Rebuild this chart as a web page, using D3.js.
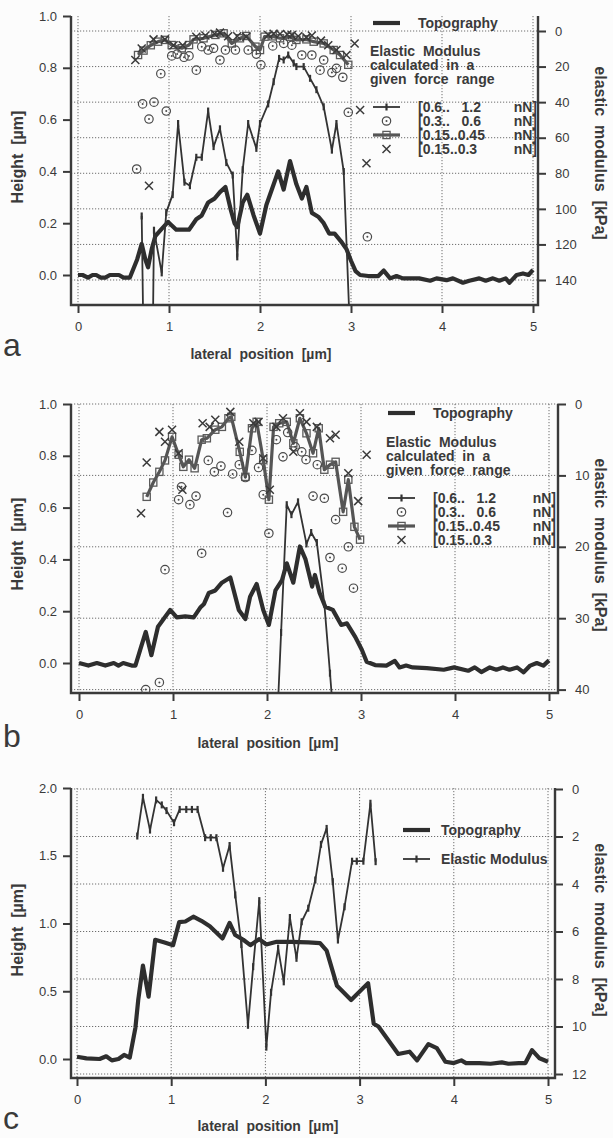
<!DOCTYPE html>
<html>
<head>
<meta charset="utf-8">
<script src="https://cdn.jsdelivr.net/npm/d3@7"></script>
<style>
  body { margin: 0; background: #fcfcfc; }
  text { font-family: "Liberation Sans", Arial, Helvetica, sans-serif; fill: #3a3a3a; white-space: pre; }
</style>
</head>
<body>
<div id="chart"></div>
<script>
// tick values shared by the three panels
var xTicks = [0, 1, 2, 3, 4, 5];
var heightTicksAB = [0, 0.2, 0.4, 0.6, 0.8, 1.0];
var heightTicksC = [0, 0.5, 1.0, 1.5, 2.0];
var modTicksA = [0, 20, 40, 60, 80, 100, 120, 140];
var modTicksB = [0, 10, 20, 30, 40];
var modTicksC = [0, 2, 4, 6, 8, 10, 12];
var rangeLabels = ["[0.6..   1.2", "[0.3..   0.6", "[0.15..0.45", "[0.15..0.3"];
var headLines = ["Elastic  Modulus", "calculated  in  a", "given  force  range"];

// ---- panel a : [lateral µm, height µm] and [lateral µm, modulus kPa]
var topoA = [[0,0],[0.05,0],[0.11,-0.01],[0.16,0],[0.2,0],[0.25,-0.01],[0.3,-0.01],[0.35,0],[0.4,0],[0.45,0],
  [0.5,-0.01],[0.57,-0.01],[0.65,0.06],[0.7,0.12],[0.74,0.06],[0.77,0.03],[0.81,0.1],[0.85,0.15],[0.9,0.17],
  [0.99,0.205],[1.08,0.175],[1.15,0.175],[1.22,0.175],[1.3,0.215],[1.36,0.23],[1.43,0.28],[1.5,0.295],
  [1.56,0.32],[1.62,0.34],[1.68,0.25],[1.72,0.2],[1.75,0.185],[1.81,0.28],[1.86,0.31],[1.93,0.23],[2.0,0.16],
  [2.07,0.27],[2.13,0.33],[2.2,0.4],[2.26,0.33],[2.33,0.44],[2.4,0.35],[2.46,0.295],[2.51,0.34],[2.57,0.24],
  [2.64,0.225],[2.7,0.2],[2.76,0.16],[2.82,0.16],[2.89,0.13],[2.95,0.1],[3.0,0.055],[3.05,0.015],[3.1,0],
  [3.19,-0.004],[3.3,-0.004],[3.36,0.017],[3.43,-0.013],[3.5,-0.004],[3.57,-0.013],[3.75,-0.013],[3.87,-0.022],
  [3.94,-0.013],[4.05,-0.02],[4.12,-0.013],[4.23,-0.03],[4.3,-0.022],[4.41,-0.013],[4.48,-0.022],[4.56,-0.013],
  [4.63,-0.022],[4.7,-0.013],[4.74,-0.03],[4.82,0],[4.89,0.006],[4.95,0],[5.0,0.02]];
var thinA = [[0.70,104],[0.715,158],[0.825,158],[0.835,112],[0.92,136],[0.97,102],[1.04,92],[1.10,52],[1.17,85],
  [1.23,87],[1.30,71],[1.36,71],[1.43,45],[1.49,65],[1.56,55],[1.63,74],[1.70,81],[1.75,127],[1.81,78],[1.87,52],
  [1.96,66],[2.00,52],[2.09,41],[2.15,28.5],[2.21,15.4],[2.26,16.3],[2.31,13.5],[2.37,18],[2.40,20],[2.48,20],
  [2.55,26.6],[2.62,33],[2.70,42.6],[2.79,67],[2.84,52],[2.92,79],[2.98,158]];
var circA = [[0.645,77.6],[0.71,41],[0.78,49.5],[0.835,40],[0.91,24],[0.97,45],[1.03,14],[1.09,13],[1.165,14.8],
  [1.22,14],[1.30,22],[1.36,8.8],[1.43,10.7],[1.49,9.7],[1.56,16.3],[1.62,10.7],[1.73,10.7],[1.87,10.7],[1.96,13],
  [2.01,19],[2.14,8.4],[2.26,7],[2.35,8],[2.46,13.5],[2.57,13.5],[2.66,22],[2.70,16.3],[2.79,23.4],[2.84,21],
  [2.91,26],[2.97,45.7],[3.18,115.7]];
var sqA = [[0.66,13.5],[0.72,11],[0.80,8],[0.88,6],[0.955,5],[1.03,7.9],[1.14,9.7],[1.22,7.9],[1.27,4.7],[1.38,4.1],
  [1.51,2.2],[1.60,1.3],[1.69,7],[1.78,4.1],[1.85,2.8],[1.95,8.8],[2.00,10.7],[2.05,3.2],[2.14,3.0],[2.22,4.1],
  [2.33,3.2],[2.40,5],[2.51,4.7],[2.59,6],[2.70,7],[2.81,10.7],[2.88,13.5],[2.97,19]];
var crossA = [[0.63,16.3],[0.70,9.8],[0.78,87],[0.83,4.7],[0.955,4.7],[1.05,8],[1.15,8],[1.30,3.2],[1.40,2.5],
  [1.50,1.5],[1.56,0.9],[1.65,3],[1.75,3],[1.85,3.2],[2.09,2.2],[2.15,1.5],[2.22,1.7],[2.30,2],[2.35,2.2],[2.42,3],
  [2.51,3.6],[2.57,2.5],[2.67,5.4],[2.75,8],[2.84,10.7],[2.95,13.5],[3.04,7],[3.10,44.4],[3.17,74.4]];

// ---- panel b
var topoB = [[0,0],[0.1,-0.01],[0.19,0],[0.28,-0.01],[0.37,0],[0.42,-0.01],[0.47,0],[0.56,-0.01],[0.6,-0.01],
  [0.65,0.05],[0.71,0.12],[0.77,0.03],[0.84,0.14],[0.9,0.17],[0.97,0.205],[1.04,0.176],[1.13,0.18],[1.22,0.176],
  [1.29,0.214],[1.33,0.228],[1.38,0.27],[1.45,0.28],[1.52,0.31],[1.61,0.33],[1.70,0.205],[1.77,0.17],[1.82,0.256],
  [1.89,0.305],[1.96,0.205],[2.02,0.147],[2.09,0.28],[2.16,0.32],[2.21,0.385],[2.28,0.31],[2.35,0.45],[2.41,0.40],
  [2.48,0.295],[2.51,0.34],[2.56,0.27],[2.62,0.217],[2.70,0.205],[2.79,0.147],[2.85,0.153],[2.94,0.10],[3.01,0.05],
  [3.06,0.005],[3.15,-0.008],[3.27,-0.01],[3.36,0.008],[3.41,-0.017],[3.48,-0.01],[3.55,-0.017],[3.70,-0.02],
  [3.88,-0.026],[3.99,-0.017],[4.14,-0.03],[4.21,-0.017],[4.28,-0.035],[4.37,-0.017],[4.44,-0.026],[4.51,-0.017],
  [4.58,-0.026],[4.66,-0.017],[4.73,-0.036],[4.80,-0.01],[4.87,0],[4.94,-0.01],[5.0,0.01]];
var thinB = [[2.12,41],[2.15,32],[2.21,14.1],[2.26,15.5],[2.33,13.7],[2.42,19.6],[2.47,18],[2.53,19.4],[2.61,28],
  [2.67,37.7],[2.69,41]];
var circB = [[0.71,40],[0.855,39],[0.915,23.2],[1.06,13.4],[1.09,11.6],[1.18,14.1],[1.245,12.9],[1.305,20.9],
  [1.375,7.9],[1.44,9.5],[1.51,8.7],[1.58,15.2],[1.635,9.8],[1.705,8.5],[1.77,10.3],[1.84,6.5],[1.91,8.9],
  [1.96,12.7],[2.02,18.1],[2.10,5],[2.17,7.4],[2.22,4],[2.30,6],[2.37,6.7],[2.415,7.8],[2.49,12.9],[2.535,8.5],
  [2.61,13.2],[2.67,21.5],[2.73,16.2],[2.80,23],[2.865,20],[2.92,25.8]];
var sqB = [[0.72,13],[0.79,11],[0.855,9.5],[0.915,7.9],[0.99,4.6],[1.06,7.1],[1.11,8.8],[1.17,7.8],[1.23,9],
  [1.305,5],[1.36,4.8],[1.45,3.6],[1.52,3.2],[1.59,2],[1.62,1.8],[1.71,6.7],[1.77,10.2],[1.84,3.4],[1.89,2.5],
  [1.96,7.8],[2.02,13.4],[2.07,3.2],[2.13,2.7],[2.21,2.5],[2.28,5.5],[2.35,2],[2.42,4.1],[2.49,6.9],[2.55,3.4],
  [2.61,9.2],[2.67,8.5],[2.73,8.1],[2.81,15.1],[2.865,10.6],[2.93,17.2],[2.99,19]];
var crossB = [[0.66,15.3],[0.72,8.2],[0.855,3.9],[0.915,5.3],[0.99,3.6],[1.06,6.9],[1.10,12],[1.315,2.7],
  [1.39,3.2],[1.45,2.2],[1.61,1.1],[1.705,5.3],[1.855,2.7],[1.91,2.5],[1.96,7.6],[2.03,12],[2.10,3.2],[2.17,2],
  [2.28,6.7],[2.35,1.3],[2.42,2.5],[2.53,3.2],[2.67,4.8],[2.73,4.3],[2.865,9.7],[2.97,13.6],[3.06,7.1]];

// ---- panel c
var topoC = [[0,0.017],[0.1,0.005],[0.24,0],[0.31,0.02],[0.37,-0.01],[0.44,0],[0.5,0.03],[0.56,0.01],[0.62,0.23],
  [0.65,0.435],[0.70,0.69],[0.76,0.46],[0.83,0.88],[0.93,0.86],[1.02,0.84],[1.085,1.01],[1.15,1.015],[1.235,1.05],
  [1.32,1.02],[1.41,0.98],[1.545,0.89],[1.62,1.005],[1.68,0.915],[1.765,0.88],[1.84,0.84],[1.935,0.885],
  [2.01,0.845],[2.12,0.865],[2.27,0.865],[2.455,0.86],[2.58,0.855],[2.65,0.80],[2.76,0.54],[2.91,0.435],
  [3.09,0.56],[3.15,0.26],[3.20,0.24],[3.41,0.037],[3.53,0.054],[3.61,-0.01],[3.73,0.11],[3.82,0.08],
  [3.91,-0.02],[4.0,-0.03],[4.08,-0.01],[4.13,-0.03],[4.27,-0.03],[4.39,-0.035],[4.51,-0.025],[4.58,-0.035],
  [4.69,-0.03],[4.76,-0.03],[4.83,0.065],[4.91,0.005],[5.0,-0.02]];
var modC = [[0.64,1.98],[0.70,0.35],[0.775,1.73],[0.84,0.46],[0.90,0.67],[0.95,0.91],[1.03,1.42],[1.09,0.86],
  [1.16,0.86],[1.22,0.86],[1.28,0.86],[1.36,2.05],[1.42,2.05],[1.48,2.05],[1.55,3.34],[1.62,2.38],[1.68,4.46],
  [1.745,6.55],[1.815,9.95],[1.87,7.48],[1.935,4.7],[2.01,10.87],[2.06,8.56],[2.135,6.7],[2.195,8.12],[2.26,5.41],
  [2.33,7.13],[2.385,5.59],[2.455,5.02],[2.53,3.83],[2.59,2.33],[2.65,1.66],[2.715,3.9],[2.77,6.36],[2.84,4.96],
  [2.92,3.04],[2.97,3.04],[3.04,3.04],[3.115,0.6],[3.17,3.06]];

var panels = [
  { letter: "a", top: 16, bottom: 305, left: 71, right: 538, xRange: [78, 533],
    hDomain: [0, 1], hRange: [275, 16], hTicks: heightTicksAB, hFmt: ".1f",
    eDomain: [0, 140], eRange: [31, 280], eTicks: modTicksA,
    topo: topoA, thin: thinA, circ: circA, sq: sqA, cross: crossA,
    titleX: 261, titleY: 359, letterY: 356, hTitleY: 157, eTitleY: 153,
    legend: { x1: 373, x2: 400, textX: 418, topoY: 23, headX: 370, headY: 56, rowY: 107, unitX: 537 } },
  { letter: "b", top: 404, bottom: 693, left: 71, right: 558, xRange: [79, 549],
    hDomain: [0, 1], hRange: [663, 404], hTicks: heightTicksAB, hFmt: ".1f",
    eDomain: [0, 40], eRange: [404, 689.6], eTicks: modTicksB,
    topo: topoB, thin: thinB, circ: circB, sq: sqB, cross: crossB,
    titleX: 268, titleY: 748, letterY: 747, hTitleY: 544, eTitleY: 545,
    legend: { x1: 388, x2: 415, textX: 433, topoY: 413, headX: 386, headY: 447, rowY: 498, unitX: 556 } },
  { letter: "c", top: 788, bottom: 1078, left: 71, right: 555, xRange: [77, 548],
    hDomain: [0, 2], hRange: [1059, 788], hTicks: heightTicksC, hFmt: ".1f",
    eDomain: [0, 12], eRange: [789, 1074], eTicks: modTicksC,
    topo: topoC, thin: modC, circ: [], sq: [], cross: [],
    titleX: 268, titleY: 1131, letterY: 1129, hTitleY: 930, eTitleY: 930,
    legendC: { x1: 403, x2: 430, textX: 441, topoY: 830, modY: 859 } }
];

var ink = "#333";

var svg = d3.select("#chart").append("svg")
  .attr("width", 613).attr("height", 1138);
svg.append("rect").attr("width", 613).attr("height", 1138).attr("fill", "#fcfcfc");

function plus(g, cx, cy) {
  g.append("line").attr("x1", cx).attr("x2", cx).attr("y1", cy - 3.5).attr("y2", cy + 3.5)
    .attr("stroke", ink).attr("stroke-width", 2.2);
}
function ring(g, cx, cy) {
  g.append("circle").attr("cx", cx).attr("cy", cy).attr("r", 4.2)
    .attr("fill", "none").attr("stroke", "#4a4a4a").attr("stroke-width", 1.2);
  g.append("circle").attr("cx", cx).attr("cy", cy).attr("r", 1).attr("fill", "#4a4a4a");
}
function square(g, cx, cy) {
  g.append("rect").attr("x", cx - 3.6).attr("y", cy - 3.6).attr("width", 7.2).attr("height", 7.2)
    .attr("fill", "none").attr("stroke", "#5a5a5a").attr("stroke-width", 1.3);
}
function cross(g, cx, cy) {
  g.append("path").attr("d", "M" + (cx - 4) + "," + (cy - 4) + "L" + (cx + 4) + "," + (cy + 4) +
      "M" + (cx - 4) + "," + (cy + 4) + "L" + (cx + 4) + "," + (cy - 4))
    .attr("stroke", "#3a3a3a").attr("stroke-width", 1.5).attr("fill", "none");
}

function drawPanel(p) {
  var x = d3.scaleLinear().domain([0, 5]).range(p.xRange);
  var yH = d3.scaleLinear().domain(p.hDomain).range(p.hRange);
  var yE = d3.scaleLinear().domain(p.eDomain).range(p.eRange);
  var g = svg.append("g");

  var clipId = "clip-" + p.letter;
  svg.append("clipPath").attr("id", clipId).append("rect")
    .attr("x", p.left).attr("y", p.top)
    .attr("width", p.right - p.left).attr("height", p.bottom - p.top);

  // dotted grid: verticals at x ticks, horizontals at modulus ticks
  var grid = g.append("g").attr("stroke", "#6e6e6e").attr("stroke-width", 1)
    .attr("stroke-dasharray", "1.2,1.8");
  grid.selectAll(".v").data(xTicks).enter().append("line")
    .attr("x1", function (d) { return x(d); }).attr("x2", function (d) { return x(d); })
    .attr("y1", p.top).attr("y2", p.bottom);
  grid.selectAll(".h").data(p.eTicks).enter().append("line")
    .attr("x1", p.left).attr("x2", p.right)
    .attr("y1", function (d) { return yE(d); }).attr("y2", function (d) { return yE(d); });

  // axes
  var ax = g.append("g").attr("class", "axes");
  var left = ax.append("g").attr("transform", "translate(" + p.left + ",0)")
    .call(d3.axisLeft(yH).tickValues(p.hTicks).tickFormat(d3.format(p.hFmt)).tickSize(8).tickPadding(6));
  var right = ax.append("g").attr("transform", "translate(" + p.right + ",0)")
    .call(d3.axisRight(yE).tickValues(p.eTicks).tickFormat(d3.format("d")).tickSize(8).tickPadding(9));
  var bottom = ax.append("g").attr("transform", "translate(0," + p.bottom + ")")
    .call(d3.axisBottom(x).tickValues(xTicks).tickFormat(d3.format("d")).tickSize(8).tickPadding(9));
  [left, right, bottom].forEach(function (a) {
    a.select(".domain").remove();
    a.selectAll(".tick line").attr("stroke", "#3a3a3a").attr("stroke-width", 2);
    a.selectAll(".tick text").style("font-family", "'Liberation Sans', Arial, sans-serif")
      .style("font-size", "13px").attr("fill", "#444");
  });
  ax.append("path")
    .attr("d", "M" + p.left + "," + p.top + "V" + p.bottom + "H" + p.right + "V" + p.top)
    .attr("fill", "none").attr("stroke", "#3a3a3a").attr("stroke-width", 2.4);

  // series
  var plot = g.append("g").attr("clip-path", "url(#" + clipId + ")");
  var lineH = d3.line().x(function (d) { return x(d[0]); }).y(function (d) { return yH(d[1]); });
  var lineE = d3.line().x(function (d) { return x(d[0]); }).y(function (d) { return yE(d[1]); });

  if (p.sq.length) {
    plot.append("path").datum(p.sq).attr("d", lineE).attr("fill", "none")
      .attr("stroke", "#555").attr("stroke-width", 3.2).attr("stroke-linejoin", "round");
    p.sq.forEach(function (d) { square(plot, x(d[0]), yE(d[1])); });
  }
  plot.append("path").datum(p.topo).attr("d", lineH).attr("fill", "none")
    .attr("stroke", "#2e2e2e").attr("stroke-width", 4.2).attr("stroke-linejoin", "round");
  plot.append("path").datum(p.thin).attr("d", lineE).attr("fill", "none")
    .attr("stroke", ink).attr("stroke-width", 1.8).attr("stroke-linejoin", "round");
  p.thin.forEach(function (d) { plus(plot, x(d[0]), yE(d[1])); });
  p.circ.forEach(function (d) { ring(plot, x(d[0]), yE(d[1])); });
  p.cross.forEach(function (d) { cross(plot, x(d[0]), yE(d[1])); });

  // titles
  g.append("text").attr("x", p.titleX).attr("y", p.titleY).attr("text-anchor", "middle")
    .style("font-size", "14px").style("font-weight", "bold").text("lateral  position  [µm]");
  g.append("text").attr("transform", "translate(17," + p.hTitleY + ") rotate(-90)")
    .attr("text-anchor", "middle").attr("dy", "0.35em")
    .style("font-size", "16px").style("font-weight", "bold").text("Height  [µm]");
  g.append("text").attr("transform", "translate(601," + p.eTitleY + ") rotate(90)")
    .attr("text-anchor", "middle").attr("dy", "0.35em")
    .style("font-size", "16px").style("font-weight", "bold").text("elastic  modulus  [kPa]");
  g.append("text").attr("x", 3).attr("y", p.letterY)
    .style("font-size", "32px").attr("fill", "#333").text(p.letter);

  // legend
  var lg = g.append("g").style("font-size", "14px").style("font-weight", "bold");
  if (p.legend) {
    var L = p.legend;
    var mid = (L.x1 + L.x2) / 2;
    lg.append("line").attr("x1", L.x1).attr("x2", L.x2).attr("y1", L.topoY).attr("y2", L.topoY)
      .attr("stroke", "#2e2e2e").attr("stroke-width", 4.2);
    lg.append("text").attr("x", L.textX).attr("y", L.topoY + 5).text("Topography");
    headLines.forEach(function (t, i) {
      lg.append("text").attr("x", L.headX).attr("y", L.headY + i * 14).text(t);
    });
    rangeLabels.forEach(function (t, i) {
      var cy = L.rowY + i * 14;
      if (i === 0) {
        lg.append("line").attr("x1", L.x1).attr("x2", L.x2).attr("y1", cy).attr("y2", cy)
          .attr("stroke", ink).attr("stroke-width", 1.8);
        plus(lg, mid, cy);
      } else if (i === 1) {
        ring(lg, mid, cy);
      } else if (i === 2) {
        lg.append("line").attr("x1", L.x1).attr("x2", L.x2).attr("y1", cy).attr("y2", cy)
          .attr("stroke", "#555").attr("stroke-width", 3.2);
        square(lg, mid, cy);
      } else {
        cross(lg, mid, cy);
      }
      lg.append("text").attr("x", L.textX).attr("y", cy + 5).text(t);
      lg.append("text").attr("x", L.unitX).attr("y", cy + 5).attr("text-anchor", "end").text("nN]");
    });
  }
  if (p.legendC) {
    var C = p.legendC;
    lg.append("line").attr("x1", C.x1).attr("x2", C.x2).attr("y1", C.topoY).attr("y2", C.topoY)
      .attr("stroke", "#2e2e2e").attr("stroke-width", 4.2);
    lg.append("text").attr("x", C.textX).attr("y", C.topoY + 5).text("Topography");
    lg.append("line").attr("x1", C.x1).attr("x2", C.x2).attr("y1", C.modY).attr("y2", C.modY)
      .attr("stroke", ink).attr("stroke-width", 1.8);
    plus(lg, (C.x1 + C.x2) / 2, C.modY);
    lg.append("text").attr("x", C.textX).attr("y", C.modY + 5).text("Elastic Modulus");
  }
}

panels.forEach(drawPanel);
</script>
</body>
</html>
